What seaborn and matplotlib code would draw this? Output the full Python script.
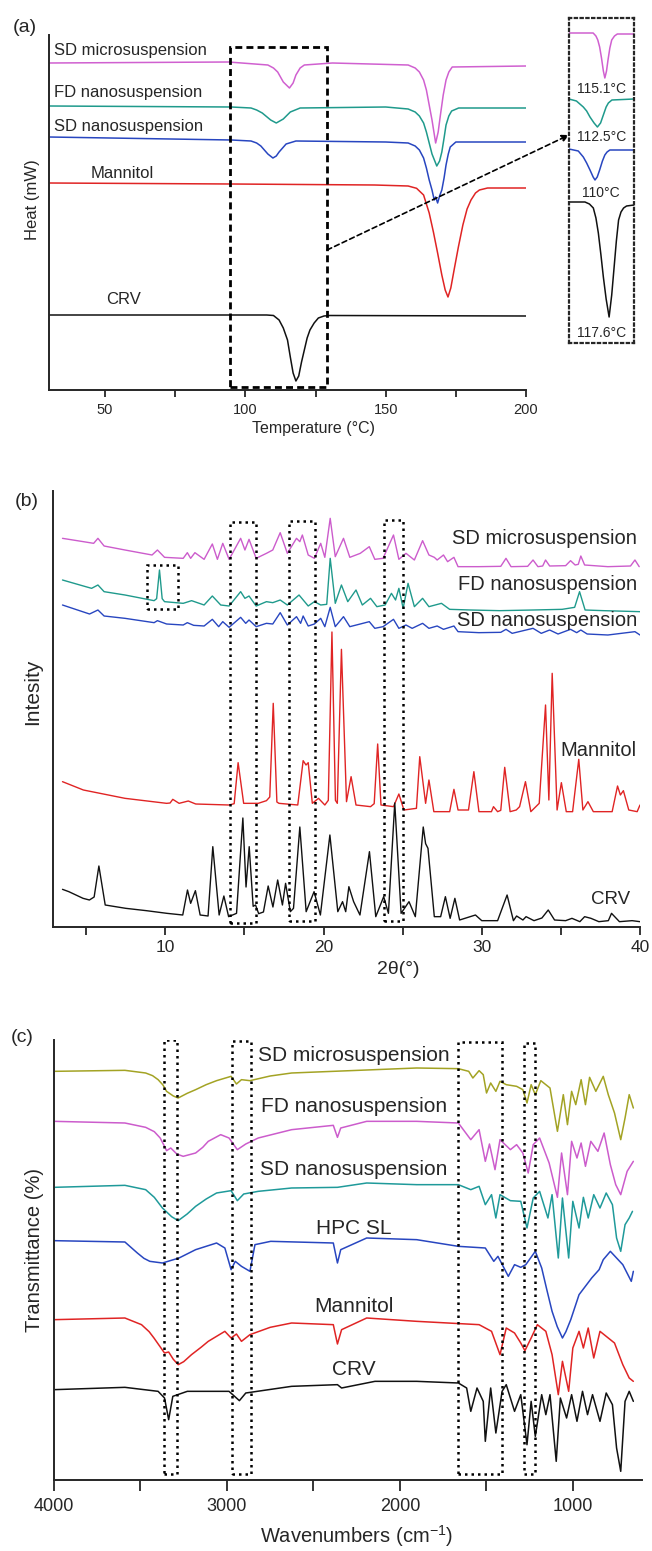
import matplotlib.pyplot as plt
import pandas as pd
import seaborn as sns
from matplotlib.patches import Rectangle
from matplotlib.ticker import MultipleLocator

sns.set_style("ticks")
plt.rcParams["font.family"] = ["Liberation Sans", "DejaVu Sans"]
plt.rcParams["mathtext.default"] = "regular"

W, H = 652, 1551

#%% (a) DSC -- (temperature °C, heat flow a.u.)
dsc_names = ["SD microsuspension", "FD nanosuspension", "SD nanosuspension", "Mannitol", "CRV"]
dsc_colors = ["#d060d0", "#1f9a8c", "#2846c0", "#e02424", "#111111"]
dsc_sd_micro = [(30, 327), (94, 328), (108, 325), (110, 322), (111.5, 318), (113.5, 308), (115.7, 302),
                (117, 307), (118, 315), (119.5, 322), (121, 325), (131, 327), (158, 325), (160.5, 322),
                (162, 318), (163.5, 310), (164.5, 300), (165.5, 285), (166.5, 270), (167.8, 247),
                (168.7, 258), (169.5, 275), (170.5, 295), (171.5, 310), (172.5, 318), (173.7, 323),
                (200, 324)]
dsc_fd_nano = [(30, 284), (95, 283), (102, 282), (104, 280), (106, 277), (109, 270), (111, 267),
               (113.5, 271), (116, 278), (119.5, 282), (150, 283), (158, 281), (160.5, 278), (162, 274),
               (163.5, 267), (164.5, 258), (165.5, 247), (166.5, 236), (168.2, 224), (169.2, 229),
               (170, 238), (170.8, 252), (171.5, 265), (172.5, 274), (173.5, 279), (176, 282), (200, 282)]
dsc_sd_nano = [(30, 253), (95, 250), (102, 249), (104, 247), (105.5, 244), (108, 236), (109.8, 232),
               (111, 234), (112, 238), (114.5, 246), (118, 249), (150, 248), (158, 247), (160.5, 244),
               (162, 240), (163.5, 232), (164.5, 222), (165.5, 210), (166.5, 200), (167.3, 190),
               (167.8, 193), (168.5, 187), (169.2, 194), (170, 200), (170.8, 212), (171.5, 225),
               (172.3, 236), (173, 243), (175, 248), (200, 248)]
dsc_mannitol = [(30, 207), (95, 206), (146, 205), (158, 204), (161, 201.7), (163.5, 195), (165.5, 177),
                (167, 158), (168.5, 137), (170, 115), (171.2, 100), (172.2, 93), (173.2, 102), (174.5, 122),
                (175.9, 143), (177.5, 165), (179, 181), (180.4, 190), (182, 197), (183.4, 200), (186.3, 202),
                (200, 202)]
dsc_crv = [(30, 75), (95, 75), (107.6, 75), (110, 74.5), (112, 70), (113.5, 62), (115, 50), (116, 33),
           (117, 17), (118, 9), (119, 14), (120, 28), (121, 40), (122, 52), (123, 60), (124.5, 67),
           (126, 72), (128, 74), (130, 74.5), (200, 74)]
dsc_box = (94.6, 129.1, 3.3, 343.3)  # T from, T to, heat bottom, heat top

# inset: melting peaks of CRV, magnified
peak_names = ["115.1°C", "112.5°C", "110°C", "117.6°C"]
peak_sd_micro = [(96, 310), (109, 310), (110.5, 307), (111.5, 303), (112.5, 296), (113.5, 285),
                 (114.5, 272), (115.3, 265), (116.2, 272), (117, 283), (118, 295), (119, 303), (120.5, 307),
                 (122, 309), (131, 309)]
peak_fd_nano = [(96, 244), (100, 242), (103.7, 236), (105.5, 232), (107.3, 226), (109.5, 220),
                (111.3, 216), (113, 220), (114.5, 228), (116, 236), (117.2, 240), (119.1, 243), (131, 244)]
peak_sd_nano = [(96, 194), (101, 192), (103.7, 186), (105.5, 180), (107.3, 173), (109, 166), (110, 163),
                (111.2, 166), (112.5, 173), (114, 182), (115.3, 188), (116.5, 191), (118, 193), (131, 193)]
peak_crv = [(96, 141), (104.6, 141), (107, 139), (109.1, 135), (110.5, 125), (111.8, 110), (113.2, 88),
            (114.5, 66), (116, 44), (117.6, 26), (119, 48), (120.3, 76), (121.5, 102), (122.7, 123),
            (124, 131), (125.4, 135), (127, 137), (131, 138)]

#%% (b) XRD -- (2theta °, intensity a.u.)
xrd_names = ["SD microsuspension", "FD nanosuspension", "SD nanosuspension", "Mannitol", "CRV"]
xrd_colors = ["#cc5ccc", "#1f9a8c", "#2846c0", "#e02424", "#111111"]
xrd_sd_micro = [(3.5, 1166), (4.82, 1156), (5.47, 1151), (5.74, 1166), (6.13, 1143), (7.45, 1131),
                (9.16, 1116), (9.5, 1131), (9.95, 1109), (11.13, 1106), (11.39, 1123), (11.6, 1106),
                (11.87, 1123), (12.45, 1103), (12.97, 1149), (13.29, 1103), (13.63, 1151), (14.03, 1103),
                (14.76, 1166), (15.03, 1131), (15.29, 1163), (15.74, 1106), (16.39, 1121), (16.79, 1131),
                (17.26, 1183), (17.71, 1121), (18.29, 1166), (18.5, 1156), (18.66, 1176), (19.03, 1116),
                (19.42, 1106), (19.82, 1151), (20.08, 1109), (20.42, 1226), (20.74, 1111), (21.26, 1166),
                (21.66, 1109), (22.32, 1121), (22.89, 1141), (23.24, 1103), (23.76, 1106), (24.42, 1176),
                (24.76, 1103), (25.21, 1121), (25.74, 1101), (26.26, 1159), (26.66, 1116), (27.0, 1109),
                (27.18, 1101), (27.58, 1116), (27.84, 1096), (28.24, 1109), (28.5, 1081), (29.82, 1081),
                (31.2, 1082), (31.53, 1106), (31.85, 1081), (32.9, 1082), (33.24, 1101), (33.55, 1081),
                (33.85, 1083), (34.03, 1101), (34.29, 1083), (35.3, 1084), (35.61, 1099), (35.9, 1086),
                (36.1, 1088), (36.26, 1113), (36.5, 1086), (37.97, 1081), (39.4, 1083), (39.68, 1101),
                (39.95, 1081)]
xrd_fd_nano = [(3.5, 1041), (4.82, 1023), (5.34, 1016), (5.74, 1026), (6.13, 1006), (7.45, 996),
               (9.29, 979), (9.45, 985), (9.63, 1071), (9.8, 985), (9.95, 976), (11.13, 971), (11.66, 979),
               (12.45, 966), (12.97, 993), (13.5, 966), (14.03, 963), (14.76, 1006), (15.03, 986),
               (15.29, 993), (15.74, 963), (16.39, 976), (16.79, 973), (17.26, 981), (17.71, 966),
               (18.45, 996), (19.03, 963), (19.42, 976), (19.82, 966), (20.2, 968), (20.42, 1106),
               (20.74, 971), (21.13, 1026), (21.53, 976), (22.05, 1011), (22.45, 966), (22.97, 986),
               (23.37, 961), (23.89, 966), (24.29, 1001), (24.55, 981), (24.76, 1016), (25.03, 956),
               (25.34, 1031), (25.74, 961), (26.26, 986), (26.66, 961), (27.45, 971), (27.97, 953),
               (29.29, 951), (31.13, 949), (33.24, 951), (35.08, 953), (35.87, 959), (36.18, 1006),
               (36.53, 951), (37.71, 949), (40.0, 946)]
xrd_sd_nano = [(3.5, 966), (5.21, 939), (5.74, 951), (6.13, 933), (7.45, 926), (9.29, 913), (9.5, 919),
               (10.08, 909), (11.13, 906), (11.39, 913), (11.79, 905), (12.45, 903), (12.97, 923),
               (13.37, 901), (13.63, 916), (14.03, 899), (14.76, 929), (15.08, 911), (15.29, 921),
               (15.74, 901), (16.39, 911), (16.79, 909), (17.26, 943), (17.71, 906), (18.29, 931),
               (18.55, 911), (18.71, 933), (19.03, 903), (19.42, 909), (19.82, 926), (20.08, 901),
               (20.42, 959), (20.74, 901), (21.26, 931), (21.66, 901), (22.32, 909), (22.89, 916),
               (23.24, 896), (23.76, 901), (24.42, 923), (24.76, 896), (25.21, 906), (25.6, 896),
               (26.26, 911), (26.66, 896), (27.18, 903), (27.58, 893), (28.24, 903), (28.5, 886),
               (29.82, 883), (31.2, 884), (31.53, 893), (31.92, 881), (33.24, 896), (33.76, 881),
               (34.29, 891), (34.82, 879), (35.61, 893), (36.0, 883), (36.26, 891), (36.66, 879),
               (37.97, 876), (39.68, 886), (40.0, 876)]
xrd_mannitol = [(3.5, 436), (4.82, 411), (7.45, 386), (10.08, 371), (10.3, 372), (10.47, 383), (10.87, 371),
                (11.45, 378), (11.92, 369), (14.03, 366), (14.35, 370), (14.6, 493), (14.95, 371),
                (15.87, 371), (16.39, 379), (16.6, 390), (16.82, 671), (17.05, 375), (17.18, 371),
                (18.37, 366), (18.71, 499), (18.89, 486), (19.03, 493), (19.29, 371), (19.68, 386),
                (20.08, 366), (20.3, 380), (20.53, 885), (20.75, 380), (20.87, 371), (21.13, 833),
                (21.45, 376), (21.74, 451), (22.05, 366), (22.97, 361), (23.2, 370), (23.42, 549),
                (23.63, 366), (24.42, 361), (24.76, 399), (25.08, 351), (25.87, 356), (26.08, 511),
                (26.45, 371), (26.66, 441), (26.97, 346), (27.97, 346), (28.24, 413), (28.5, 351),
                (29.16, 351), (29.5, 466), (29.82, 346), (30.61, 346), (30.74, 361), (31.0, 346),
                (31.2, 350), (31.45, 479), (31.79, 346), (32.18, 351), (32.39, 361), (32.76, 436),
                (33.1, 346), (33.63, 371), (34.03, 666), (34.24, 381), (34.45, 761), (34.76, 351),
                (35.03, 433), (35.34, 346), (35.74, 346), (36.13, 503), (36.39, 351), (36.71, 376),
                (37.05, 346), (38.24, 346), (38.58, 423), (38.76, 396), (38.95, 409), (39.29, 351),
                (39.82, 346), (40.0, 366)]
xrd_crv = [(3.5, 113), (3.9, 106), (4.8, 86), (5.2, 81), (5.5, 90), (5.8, 183), (6.2, 66), (7.5, 56),
           (8.8, 49), (10.1, 41), (11.1, 36), (11.4, 111), (11.6, 71), (11.9, 109), (12.2, 36), (12.7, 33),
           (13.0, 241), (13.4, 36), (13.7, 93), (14.0, 31), (14.5, 41), (14.9, 327), (15.1, 120),
           (15.3, 241), (15.55, 62), (15.7, 66), (15.9, 40), (16.2, 45), (16.5, 123), (16.8, 60),
           (17.1, 141), (17.4, 66), (17.6, 131), (17.9, 46), (18.1, 56), (18.5, 300), (18.9, 46),
           (19.4, 106), (19.8, 36), (20.4, 276), (20.9, 46), (21.2, 76), (21.4, 46), (21.6, 121),
           (21.9, 76), (22.3, 36), (22.9, 226), (23.3, 31), (23.8, 91), (24.1, 41), (24.5, 372), (24.9, 41),
           (25.4, 76), (25.8, 31), (26.3, 300), (26.45, 250), (26.6, 236), (27.0, 31), (27.4, 31),
           (27.7, 91), (28.0, 26), (28.3, 86), (28.6, 21), (29.6, 36), (30.0, 19), (31.0, 19), (31.6, 96),
           (32.0, 19), (32.2, 33), (32.6, 21), (32.8, 31), (33.3, 19), (33.8, 27), (34.2, 51), (34.6, 21),
           (35.3, 19), (35.7, 26), (36.2, 16), (36.5, 31), (36.9, 26), (37.4, 16), (38.0, 19), (38.2, 41),
           (38.7, 16), (39.5, 19), (40.0, 16)]
xrd_boxes = [(14.1, 15.7, 13, 1216), (17.84, 19.47, 18, 1219), (23.82, 25.03, 18, 1221), (8.82, 10.82, 953, 1086)]

#%% (c) FTIR -- (wavenumber cm-1, transmittance a.u.)
ftir_names = ["SD microsuspension", "FD nanosuspension", "SD nanosuspension", "HPC SL", "Mannitol", "CRV"]
ftir_colors = ["#a3a324", "#cc5ccc", "#1f9a9a", "#2846c0", "#e02424", "#111111"]
ftir_sd_micro = [(4000, 1226), (3590, 1229), (3470, 1221), (3430, 1213), (3398, 1201), (3370, 1185),
                 (3349, 1166), (3310, 1152), (3282, 1146), (3230, 1160), (3181, 1171), (3120, 1186),
                 (3060, 1198), (2976, 1211), (2945, 1188), (2916, 1201), (2867, 1198), (2750, 1212),
                 (2626, 1221), (2144, 1231), (1903, 1236), (1662, 1234), (1602, 1226), (1578, 1206),
                 (1542, 1228), (1518, 1216), (1499, 1161), (1475, 1191), (1445, 1166), (1421, 1196),
                 (1385, 1186), (1325, 1181), (1289, 1171), (1265, 1131), (1241, 1186), (1217, 1156),
                 (1185, 1198), (1132, 1176), (1089, 1046), (1055, 1156), (1031, 1066), (1007, 1166),
                 (983, 1126), (952, 1201), (927, 1126), (903, 1208), (867, 1166), (824, 1211), (795, 1156),
                 (759, 1101), (723, 1021), (698, 1086), (674, 1156), (650, 1116)]
ftir_fd_nano = [(4000, 1076), (3590, 1071), (3470, 1058), (3420, 1045), (3386, 1026), (3360, 1000),
                (3349, 988), (3325, 996), (3290, 978), (3253, 971), (3181, 981), (3140, 998), (3108, 1016),
                (3036, 1036), (2988, 1026), (2940, 991), (2891, 1008), (2819, 1026), (2626, 1051),
                (2385, 1064), (2361, 1028), (2342, 1056), (2192, 1076), (1903, 1076), (1662, 1071),
                (1590, 1021), (1542, 1051), (1506, 956), (1482, 1008), (1450, 931), (1421, 1021),
                (1361, 991), (1325, 1006), (1289, 981), (1258, 921), (1229, 1006), (1192, 1026),
                (1137, 951), (1089, 848), (1065, 981), (1031, 856), (1007, 1016), (976, 966), (952, 1011),
                (927, 941), (896, 1016), (855, 986), (819, 1041), (783, 946), (752, 886), (723, 856),
                (686, 926), (650, 956)]
ftir_sd_nano = [(4000, 878), (3590, 884), (3470, 871), (3420, 848), (3373, 816), (3320, 790), (3282, 778),
                (3230, 798), (3181, 821), (3120, 843), (3060, 861), (2976, 868), (2940, 838), (2903, 858),
                (2819, 866), (2626, 876), (2361, 878), (2192, 891), (1903, 886), (1662, 886), (1590, 871),
                (1542, 881), (1506, 826), (1470, 856), (1445, 786), (1421, 856), (1361, 838), (1301, 836),
                (1265, 756), (1229, 846), (1192, 866), (1144, 786), (1120, 856), (1084, 666), (1060, 846),
                (1024, 666), (1000, 836), (964, 756), (939, 848), (911, 786), (879, 856), (843, 816),
                (807, 861), (771, 826), (747, 726), (723, 686), (698, 766), (674, 786), (655, 806)]
ftir_hpc = [(4000, 718), (3590, 714), (3518, 681), (3480, 665), (3446, 656), (3373, 651), (3277, 666),
            (3181, 691), (3060, 711), (3012, 696), (2976, 631), (2952, 656), (2916, 641), (2867, 626),
            (2838, 706), (2747, 716), (2385, 711), (2361, 651), (2342, 691), (2192, 726), (1903, 721),
            (1662, 701), (1506, 696), (1457, 656), (1433, 671), (1373, 611), (1337, 646), (1301, 638),
            (1272, 646), (1217, 686), (1180, 636), (1150, 570), (1120, 506), (1090, 460), (1060, 426),
            (1040, 445), (1012, 481), (964, 556), (891, 606), (848, 631), (824, 661), (783, 686),
            (747, 666), (711, 646), (662, 596), (650, 626)]
ftir_mannitol = [(4000, 481), (3590, 486), (3494, 466), (3450, 445), (3422, 426), (3361, 381), (3337, 384),
                 (3310, 362), (3282, 346), (3250, 355), (3205, 376), (3150, 398), (3108, 416), (3012, 446),
                 (2976, 426), (2945, 438), (2916, 416), (2867, 436), (2750, 458), (2626, 471), (2385, 466),
                 (2361, 408), (2337, 451), (2192, 486), (1903, 476), (1542, 466), (1470, 446), (1421, 376),
                 (1385, 456), (1337, 441), (1301, 411), (1277, 388), (1241, 426), (1205, 466), (1156, 446),
                 (1120, 376), (1084, 256), (1060, 356), (1024, 266), (1000, 396), (964, 446), (939, 396),
                 (911, 456), (879, 366), (843, 446), (795, 426), (759, 411), (711, 346), (674, 306),
                 (650, 296)]
ftir_crv = [(4000, 271), (3590, 278), (3398, 266), (3361, 246), (3337, 181), (3313, 251), (3229, 266),
            (2988, 266), (2928, 238), (2891, 261), (2626, 281), (2361, 286), (2337, 276), (2144, 296),
            (1903, 296), (1662, 291), (1614, 276), (1590, 206), (1554, 276), (1518, 236), (1506, 116),
            (1475, 276), (1445, 141), (1409, 266), (1385, 286), (1337, 206), (1301, 256), (1265, 106),
            (1241, 236), (1217, 131), (1180, 256), (1156, 196), (1132, 256), (1096, 56), (1072, 246),
            (1036, 186), (1007, 256), (976, 176), (944, 266), (915, 196), (886, 256), (843, 176),
            (807, 261), (771, 226), (747, 96), (723, 26), (698, 236), (674, 266), (650, 236)]
ftir_boxes = [(3366, 3289, 18, 1321), (2971, 2862, 18, 1318), (1662, 1409, 18, 1314), (1284, 1217, 18, 1311)]


def frame(left, top, right, bottom):
    return [left / W, 1 - bottom / H, (right - left) / W, (bottom - top) / H]


def draw(ax, pts, color, lw=1.1):
    df = pd.DataFrame(pts, columns=["x", "y"])
    sns.lineplot(data=df, x="x", y="y", color=color, linewidth=lw, estimator=None, sort=False, ax=ax)


def style(ax, fs, major, minor, tick_len):
    sns.despine(ax=ax)
    ax.set_yticks([])
    ax.xaxis.set_major_locator(MultipleLocator(major))
    ax.xaxis.set_minor_locator(MultipleLocator(minor))
    ax.tick_params(axis="x", which="major", length=tick_len, width=1.3, labelsize=fs)
    ax.tick_params(axis="x", which="minor", length=tick_len, width=1.3)
    for s in ("left", "bottom"):
        ax.spines[s].set_linewidth(1.4)


def axis_labels(ax, xlabel, ylabel, fs_x, fs_y, xc, yc, frame_px):
    # place label centres at pixel positions
    left, top, right, bottom = frame_px
    ax.set_xlabel(xlabel, fontsize=fs_x, va="center")
    ax.xaxis.set_label_coords((xc[0] - left) / (right - left), (bottom - xc[1]) / (bottom - top))
    ax.set_ylabel(ylabel, fontsize=fs_y, va="center")
    ax.yaxis.set_label_coords((yc[0] - left) / (right - left), (bottom - yc[1]) / (bottom - top))


def dotted_box(ax, x0, x1, y0, y1, ls=(0, (1, 1.6)), lw=1.8):
    ax.add_patch(Rectangle((x0, y0), x1 - x0, y1 - y0, fill=False, ec="black", ls=ls, lw=lw, zorder=5))


fig = plt.figure(figsize=(W / 100, H / 100), dpi=100)

#%% panel (a)
fa = (49, 35, 526, 390)
ax_a = fig.add_axes(frame(*fa))
for pts, c in zip([dsc_sd_micro, dsc_fd_nano, dsc_sd_nano, dsc_mannitol, dsc_crv], dsc_colors):
    draw(ax_a, pts, c)
ax_a.set_xlim(30, 200)
ax_a.set_ylim(0, 355)
style(ax_a, 10.5, 50, 25, 5)
ax_a.tick_params(axis="x", pad=4)
for name, xy in zip(dsc_names, [(31.8, 340), (31.8, 298), (31.8, 264), (45, 217), (50.3, 90)]):
    ax_a.text(*xy, name, fontsize=12, ha="left", va="center")
axis_labels(ax_a, "Temperature (°C)", "Heat (mW)", 11.5, 12, (313, 428), (33, 200), fa)
t0, t1, h0, h1 = dsc_box
dotted_box(ax_a, t0, t1, h0, h1, ls=(0, (2.5, 1.5)), lw=2)
ax_a.annotate("", xy=(569 / W, 1 - 135 / H), xycoords="figure fraction", xytext=(t1, 140),
              textcoords="data",
              arrowprops=dict(arrowstyle="-|>", ls=(0, (3, 2)), lw=1.2, color="black",
                              mutation_scale=10, shrinkA=0, shrinkB=0))

ax_in = fig.add_axes(frame(569, 18, 634, 343))
for pts, c in zip([peak_sd_micro, peak_fd_nano, peak_sd_nano, peak_crv],
                  [dsc_colors[0], dsc_colors[1], dsc_colors[2], dsc_colors[4]]):
    draw(ax_in, pts, c)
ax_in.set_xlim(96, 131)
ax_in.set_ylim(0, 325)
ax_in.set_xticks([])
ax_in.set_yticks([])
ax_in.set_xlabel("")
ax_in.set_ylabel("")
for s in ax_in.spines.values():
    s.set_linestyle((0, (1, 1.6)))
    s.set_linewidth(1.6)
for name, y in zip(peak_names, [254, 206, 150, 10]):
    ax_in.text(113.3, y, name, fontsize=10, ha="center", va="center")

fig.text(25 / W, 1 - 27 / H, "(a)", fontsize=14, ha="center", va="center")

#%% panel (b)
fb = (53, 491, 640, 927)
ax_b = fig.add_axes(frame(*fb))
for pts, c in zip([xrd_sd_micro, xrd_fd_nano, xrd_sd_nano, xrd_mannitol, xrd_crv], xrd_colors):
    draw(ax_b, pts, c, lw=1.0)
ax_b.set_xlim(2.9, 40)
ax_b.set_ylim(0, 1308)
style(ax_b, 12.5, 10, 5, 6)
ax_b.tick_params(axis="x", pad=3)
for x0, x1, y0, y1 in xrd_boxes:
    dotted_box(ax_b, x0, x1, y0, y1)
for name, xy in zip(xrd_names, [(39.8, 1166), (39.8, 1026), (39.8, 921), (39.8, 531), (39.4, 83)]):
    ax_b.text(*xy, name, fontsize=14.5 if name != "CRV" else 13.5, ha="right", va="center", zorder=6)
axis_labels(ax_b, "2θ(°)", "Intesity", 14, 15, (398, 970), (33, 692), fb)
fig.text(27 / W, 1 - 502 / H, "(b)", fontsize=14, ha="center", va="center")

#%% panel (c)
fc = (54, 1040, 642, 1480)
ax_c = fig.add_axes(frame(*fc))
for pts, c in zip([ftir_sd_micro, ftir_fd_nano, ftir_sd_nano, ftir_hpc, ftir_mannitol, ftir_crv], ftir_colors):
    draw(ax_c, pts, c, lw=1.1)
ax_c.set_xlim(4000, 600)
ax_c.set_ylim(0, 1320)
style(ax_c, 13, 1000, 500, 8)
ax_c.tick_params(axis="x", pad=5)
for x0, x1, y0, y1 in ftir_boxes:
    dotted_box(ax_c, x0, x1, y0, y1)
for name, y in zip(ftir_names, [1274, 1121, 931, 756, 521, 331]):
    ax_c.text(2265, y, name, fontsize=15, ha="center", va="center", zorder=6)
axis_labels(ax_c, "Wavenumbers (cm$^{-1}$)", "Transmittance (%)", 14.5, 14.5, (357, 1536), (35, 1250), fc)
fig.text(22 / W, 1 - 1038 / H, "(c)", fontsize=14, ha="center", va="center")

fig.savefig("out.png", dpi=100)
